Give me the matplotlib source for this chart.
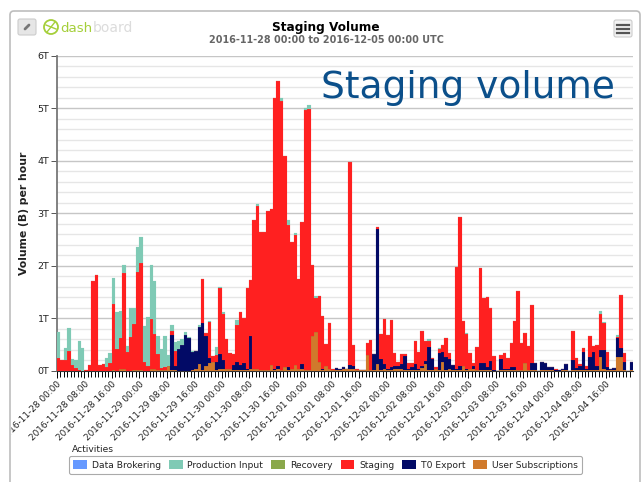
import matplotlib
matplotlib.use("Agg")
import matplotlib.pyplot as plt
from matplotlib.patches import FancyBboxPatch, Rectangle, Circle, Patch
import numpy as np

# stack tops, in T per hour, one value per hour
orange_top = [
    0, 0, 0, 0, 0, 0, 0, 0, 0, 0, 0, 0, 0, 0, 0, 0, .02, 0, .03, .03, 0, 0, .01, .01,
    .01, 0, 0, .03, .03, .02, .02, .02, .1, .02, .02, 0, 0, 0, 0, .02, .04, .13, .02, .1, .15, .18, .02, .03,
    .03, .03, .03, .02, .02, .01, .02, .02, .03, .03, .03, .01, .01, .01, .11, .02, .03, .01, .07, .02, .03, .12, .03, .03,
    .01, .01, .67, .74, .18, .02, .09, .03, .01, .02, .02, .03, .03, .03, .03, .02, .01, .02, .3, .02, .02, .13, .02, .03,
    .02, .02, .03, .03, .03, .02, .01, .02, .02, .02, .05, .13, .02, .02, .03, .02, .18, .02, .03, .02, .01, .02, .1, .02,
    .03, .03, .01, .01, .01, .01, .01, 0, 0, .01, .01, .01, .01, .01, .01, .01, .15, .01, .01, .01, 0, .01, .01, .01,
    .01, 0, 0, .01, .01, 0, .01, .01, .01, .01, .01, .01, .01, .01, .26, .03, .01, .01, .01, .26, .27, .01, 0, .01,
]
navy_top = [
    0, 0, 0, 0, 0, 0, 0, 0, 0, 0, 0, 0, 0, 0, 0, 0, .02, 0, .03, .03, 0, 0, .01, .01,
    .01, 0, 0, .03, .03, .02, .02, .02, .1, .69, .1, .42, .5, .68, .62, .36, .38, .84, .92, .66, .25, .18, .18, .33,
    .2, .04, .03, .12, .18, .12, .15, .03, .67, .04, .03, .01, .01, .01, .11, .03, .1, .02, .07, .08, .03, .12, .03, .14,
    .02, .01, .67, .74, .18, .03, .09, .03, .02, .06, .03, .07, .03, .11, .1, .02, .01, .02, .3, .02, .32, 2.7, .23, .13,
    .03, .07, .09, .1, .13, .28, .04, .08, .13, .04, .1, .19, .46, .22, .03, .35, .37, .26, .23, .11, .03, .1, .1, .03,
    .04, .1, .01, .15, .15, .08, .19, .01, 0, .22, .04, .03, .07, .08, .01, .01, .15, .01, .16, .16, 0, .17, .15, .07,
    .07, .01, .01, .04, .13, 0, .2, .06, .1, .36, .03, .27, .36, .1, .39, .4, .08, .03, .05, .62, .44, .18, 0, .18,
]
staging_top = [
    .24, .2, .2, .38, .12, .06, .02, 0, .02, .11, 1.72, 1.83, .12, .13, .08, .16, 1.28, .42, .62, 1.86, .36, .64, .9, 1.88,
    2.06, .18, .1, .98, .7, .33, .05, .07, .1, .76, .38, .42, .5, .68, .62, .36, .38, .84, 1.75, .72, .94, .28, .3, 1.58,
    1.08, .6, .35, .32, .88, 1.12, 1.0, 1.57, 1.73, 2.88, 3.14, 2.64, 2.65, 3.05, 3.08, 5.2, 5.51, 5.13, 4.08, 2.78, 2.45, 2.58, 1.75, 2.83,
    4.97, 4.98, 2.02, 1.38, 1.43, 1.05, .51, .92, .03, .06, .04, .07, .03, 3.97, .5, .03, .02, .02, .53, .59, .32, 2.73, .7, .98,
    .69, .97, .34, .18, .32, .32, .16, .15, .57, .36, .77, .57, .57, .25, .08, .42, .49, .62, .34, .11, 1.98, 2.93, .95, .7,
    .34, .16, .45, 1.95, 1.38, 1.4, 1.19, .28, 0, .3, .34, .24, .54, .95, 1.52, .53, .72, .48, 1.25, .16, 0, .18, .15, .07,
    .07, .03, .01, .04, .13, 0, .77, .25, .13, .43, .1, .66, .48, .5, 1.09, .91, .37, .03, .05, .65, 1.44, .35, 0, .18,
]
production_top = [
    .75, .2, .43, .82, .22, .2, .58, .44, .02, .11, 1.72, 1.83, .12, .13, .25, .35, 1.77, 1.12, 1.14, 2.02, .48, 1.2, 1.2, 2.36,
    2.54, .86, 1.02, 2.02, 1.72, .66, .42, .66, .3, .88, .56, .58, .6, .74, .65, .38, .38, .88, 1.75, .72, .96, .28, .45, 1.6,
    1.12, .6, .35, .32, .97, 1.12, 1.0, 1.57, 1.73, 2.88, 3.18, 2.64, 2.65, 3.05, 3.08, 5.2, 5.51, 5.19, 4.08, 2.88, 2.45, 2.62, 1.75, 2.83,
    5.0, 5.06, 2.02, 1.43, 1.43, 1.05, .51, .92, .03, .06, .04, .07, .03, 3.97, .5, .03, .02, .02, .53, .59, .32, 2.73, .7, .98,
    .69, .97, .34, .18, .32, .32, .16, .15, .57, .36, .77, .57, .61, .25, .08, .44, .49, .63, .34, .11, 1.98, 2.93, .95, .72,
    .34, .16, .45, 1.95, 1.38, 1.4, 1.19, .28, 0, .3, .34, .24, .54, .95, 1.52, .53, .72, .48, 1.25, .16, 0, .18, .15, .07,
    .07, .03, .01, .04, .13, 0, .77, .25, .13, .43, .1, .66, .48, .5, 1.14, .94, .37, .03, .05, .68, 1.44, .35, 0, .18,
]
x_labels = [
    "2016-11-28 00:00", "2016-11-28 08:00", "2016-11-28 16:00",
    "2016-11-29 00:00", "2016-11-29 08:00", "2016-11-29 16:00",
    "2016-11-30 00:00", "2016-11-30 08:00", "2016-11-30 16:00",
    "2016-12-01 00:00", "2016-12-01 08:00", "2016-12-01 16:00",
    "2016-12-02 00:00", "2016-12-02 08:00", "2016-12-02 16:00",
    "2016-12-03 00:00", "2016-12-03 08:00", "2016-12-03 16:00",
    "2016-12-04 00:00", "2016-12-04 08:00", "2016-12-04 16:00",
]
y_labels = ["0T", "1T", "2T", "3T", "4T", "5T", "6T"]
activities = ["Data Brokering", "Production Input", "Recovery", "Staging", "T0 Export", "User Subscriptions"]
activity_colors = ["#6699ff", "#7fcab5", "#8aa84b", "#ff2020", "#020a66", "#d07a2c"]

W, H = 641, 482
fig = plt.figure(figsize=(W / 100, H / 100), dpi=100)
ax = fig.add_axes([57 / W, 1 - 371 / H, 576 / W, 315.5 / H])

hours = np.arange(len(staging_top))
bottom = np.zeros(len(hours))
tops = [orange_top, navy_top, staging_top, production_top]
colors = [activity_colors[5], activity_colors[4], activity_colors[3], activity_colors[1]]
for top, color in zip(tops, colors):
    top = np.maximum(np.array(top), bottom)
    ax.bar(hours, top - bottom, width=1, bottom=bottom, align="edge", color=color,
           edgecolor=color, linewidth=0.1, zorder=3)
    bottom = top

ax.set_xlim(0, 168)
ax.set_ylim(0, 6)
ax.set_yticks(range(7))
ax.set_yticklabels(y_labels, fontsize=6.8, color="#222222")
ax.set_yticks(np.arange(0, 6.01, 0.2), minor=True)
ax.set_xticks(range(0, 168, 8))
ax.set_xticklabels(x_labels, fontsize=6.4, rotation=45, ha="right", rotation_mode="anchor", color="#222222")
ax.set_xticks(range(0, 168), minor=True)
ax.tick_params(axis="x", which="major", length=5, width=0.7, pad=1)
ax.tick_params(axis="x", which="minor", length=4, width=0.7)
ax.tick_params(axis="y", which="major", length=4, width=0.7, color="#555555", pad=1.5)
ax.tick_params(axis="y", which="minor", length=0)
ax.grid(axis="y", which="major", color="#c6c6c6", linewidth=1.0, zorder=0)
ax.grid(axis="y", which="minor", color="#e6e6e6", linewidth=1.0, zorder=0)
for s in ["top", "right"]:
    ax.spines[s].set_visible(False)
ax.spines["left"].set_color("#777777")
ax.spines["left"].set_linewidth(1.3)
ax.spines["bottom"].set_color("#333333")
ax.spines["bottom"].set_linewidth(0.8)
ax.set_ylabel("Volume (B) per hour", fontsize=7.8, fontweight="bold", color="#222222")
ax.yaxis.set_label_coords((29 - 57) / 576, 0.5)

# overlay in pixel coordinates for the page furniture
over = fig.add_axes([0, 0, 1, 1], zorder=5)
over.set_xlim(0, W)
over.set_ylim(H, 0)
over.axis("off")
over.add_patch(Rectangle((0, 0), 10, H, color="white", zorder=1))
over.add_patch(FancyBboxPatch((10, 11), 630, 480, boxstyle="round,pad=0,rounding_size=4",
                              fc="none", ec="#bdbdbd", lw=1.2, zorder=2))

over.text(326, 27, "Staging Volume", ha="center", va="center", fontsize=8.7, fontweight="bold", color="black")
over.text(326, 40, "2016-11-28 00:00 to 2016-12-05 00:00 UTC", ha="center", va="center",
          fontsize=6.9, fontweight="bold", color="#666666")
over.text(321, 88, "Staging volume", ha="left", va="center", fontsize=27, color="#0b4f8a")

# link button
over.add_patch(FancyBboxPatch((18, 19), 18, 16, boxstyle="round,pad=0,rounding_size=2",
                              fc="#e6e6e6", ec="#cccccc", lw=0.8))
over.plot([25, 29], [29, 25], color="#777777", lw=2, solid_capstyle="round")

# logo
over.add_patch(Circle((51, 27), 7, fc="none", ec="#a5cf3a", lw=1.3))
over.plot([47, 55], [32, 22], color="#a5cf3a", lw=1)
over.plot([46, 56], [25, 29], color="#a5cf3a", lw=1)
over.text(60, 28, "dash", ha="left", va="center", fontsize=9.6, color="#a5cf3a")
over.text(92.5, 28, "board", ha="left", va="center", fontsize=10, color="#dcdcdc")

# menu button
over.add_patch(FancyBboxPatch((614, 20), 18, 17, boxstyle="round,pad=0,rounding_size=2",
                              fc="#f3f3f3", ec="#cccccc", lw=0.8))
for y in [24.5, 28.5, 32.5]:
    over.plot([617, 629], [y, y], color="#555555", lw=1.6)

over.text(72, 449.5, "Activities", ha="left", va="center", fontsize=6.6, color="#222222")
handles = [Patch(facecolor=c, edgecolor="none") for c in activity_colors]
leg = over.legend(handles, activities, ncol=6, loc="center", bbox_to_anchor=(325.5, 465),
                  bbox_transform=over.transData, fontsize=6.6, frameon=True, fancybox=True,
                  edgecolor="#aaaaaa", facecolor="white", framealpha=1,
                  handlelength=1.5, handleheight=1.0, handletextpad=0.5, columnspacing=0.9,
                  borderpad=0.45, labelcolor="#222222")
leg.get_frame().set_linewidth(0.8)

fig.savefig("out.png", dpi=100, facecolor="white")
plt.close(fig)
